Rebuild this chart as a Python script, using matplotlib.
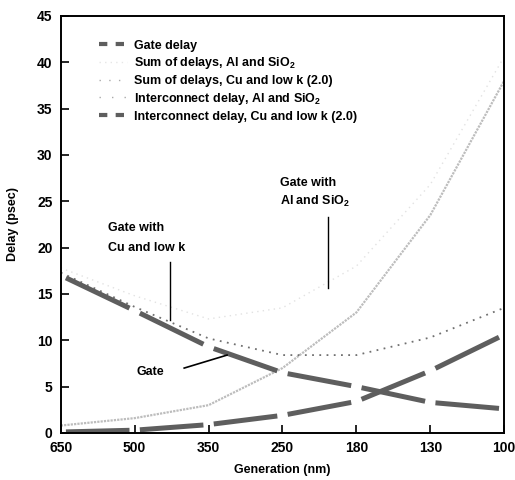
"""Gate vs interconnect delay by technology generation."""

import matplotlib.pyplot as plt
import numpy as np
from matplotlib.lines import Line2D

generations = ["650", "500", "350", "250", "180", "130", "100"]

gate_delay = [17.0, 13.2, 9.3, 6.5, 5.0, 3.3, 2.6]
sum_al_sio2 = [17.8, 14.8, 12.3, 13.5, 18.0, 26.8, 40.6]
sum_cu_lowk = [17.3, 13.6, 10.2, 8.4, 8.4, 10.3, 13.5]
inter_al_sio2 = [0.8, 1.6, 3.0, 7.0, 13.0, 23.5, 38.0]
inter_cu_lowk = [0.1, 0.3, 0.9, 1.9, 3.4, 6.7, 10.6]

yticks = [0, 5, 10, 15, 20, 25, 30, 35, 40, 45]

plt.rcParams["font.family"] = ["Liberation Sans", "DejaVu Sans"]
plt.rcParams["font.weight"] = "bold"
plt.rcParams["mathtext.fontset"] = "custom"
plt.rcParams["mathtext.rm"] = "Liberation Sans:bold"
plt.rcParams["mathtext.default"] = "rm"

DARK = "#5e5e5e"


def broken_line(ax, x, y, gap=0.07, **kw):
    # thick line drawn as one piece per interval, with a small gap at each node
    for i in range(len(x) - 1):
        x0, x1 = x[i], x[i + 1]
        y0, y1 = y[i], y[i + 1]
        xa, xb = x0 + gap, x1 - gap
        ya = y0 + (y1 - y0) * gap
        yb = y1 - (y1 - y0) * gap
        ax.plot([xa, xb], [ya, yb], solid_capstyle="butt", **kw)


def main():
    fig = plt.figure(figsize=(5.15, 4.8), dpi=100)
    ax = fig.add_axes([0.118, 0.098, 0.861, 0.869])
    x = np.arange(len(generations))

    ax.plot(x, sum_al_sio2, color="#e2e2e2", lw=1.0, ls=(0, (1, 3)))
    ax.plot(x, inter_al_sio2, color="#bdbdbd", lw=1.6, ls=(0, (1, 0.5)))
    ax.plot(x, sum_cu_lowk, color="#707070", lw=1.3, ls=(0, (1, 3)))
    broken_line(ax, x, gate_delay, color=DARK, lw=3.6)
    broken_line(ax, x, inter_cu_lowk, color=DARK, lw=3.6)

    # annotations
    fs = 9
    ax.text(2.97, 27.0, "Gate with", fontsize=fs, va="center")
    ax.text(2.97, 25.0, "Al and SiO$_2$", fontsize=fs, va="center")
    ax.plot([3.62, 3.62], [23.3, 15.6], color="black", lw=1)
    ax.text(0.64, 22.1, "Gate with", fontsize=fs, va="center")
    ax.text(0.64, 20.0, "Cu and low k", fontsize=fs, va="center")
    ax.plot([1.48, 1.48], [18.4, 12.2], color="black", lw=1)
    ax.text(1.03, 6.6, "Gate", fontsize=fs, va="center")
    ax.plot([1.67, 2.25], [7.0, 8.4], color="black", lw=1.2)

    handles = [
        Line2D([], [], color=DARK, lw=3, ls=(0, (2, 2))),
        Line2D([], [], color="#e6e6e6", lw=1, ls=(0, (1, 3))),
        Line2D([], [], color="#aaaaaa", lw=1, ls=(0, (1, 6))),
        Line2D([], [], color="#aaaaaa", lw=1, ls=(0, (1, 8))),
        Line2D([], [], color=DARK, lw=3, ls=(0, (2, 2))),
    ]
    labels = [
        "Gate delay",
        "Sum of delays, Al and SiO$_2$",
        "Sum of delays, Cu and low k (2.0)",
        "Interconnect delay, Al and SiO$_2$",
        "Interconnect delay, Cu and low k (2.0)",
    ]
    leg = ax.legend(handles, labels, loc="upper left", bbox_to_anchor=(0.075, 0.955),
                    frameon=False, fontsize=fs, handlelength=2.2, handletextpad=0.6,
                    labelspacing=0.3, borderaxespad=0)
    for t in leg.get_texts():
        t.set_fontweight("bold")

    ax.set_xlim(0, len(generations) - 1)
    ax.set_ylim(0, 45)
    ax.set_xticks(x)
    ax.set_xticklabels(generations)
    ax.set_yticks(yticks)
    ax.tick_params(direction="in", length=6, width=1.2, labelsize=10, color="black")
    ax.tick_params(axis="x", pad=6)
    ax.tick_params(axis="y", pad=6)
    for s in ax.spines.values():
        s.set_linewidth(1.4)

    ax.set_xlabel("Generation (nm)", fontsize=fs, fontweight="bold", labelpad=6)
    ax.set_ylabel("Delay (psec)", fontsize=fs, fontweight="bold", labelpad=13)

    fig.savefig("out.png", dpi=100)


if __name__ == "__main__":
    main()
